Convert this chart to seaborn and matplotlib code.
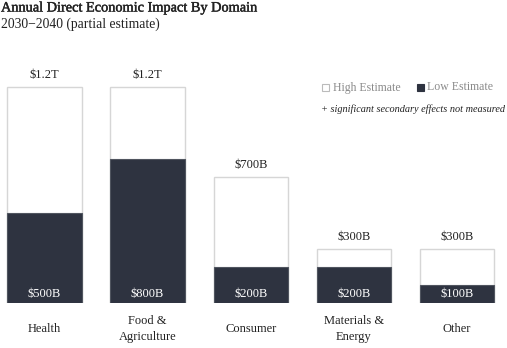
import matplotlib
matplotlib.use("Agg")
import matplotlib.pyplot as plt
import matplotlib.patheffects as pe
from matplotlib.patches import Rectangle
import seaborn as sns
import pandas as pd

domains = ["Health", "Food &\nAgriculture", "Consumer", "Materials &\nEnergy", "Other"]
high_estimate = [1200, 1200, 700, 300, 300]  # $B
low_estimate = [500, 800, 200, 200, 100]     # $B
high_labels = ["$1.2T", "$1.2T", "$700B", "$300B", "$300B"]
low_labels = ["$500B", "$800B", "$200B", "$200B", "$100B"]

DARK = "#2e3340"
EDGE = "#d6d6d6"
SERIF = "Liberation Serif"

sns.set_theme(style="white")
plt.rcParams["font.family"] = [SERIF, "DejaVu Serif"]

df = pd.DataFrame({"domain": domains, "high": high_estimate, "low": low_estimate})

W, H = 507, 348
fig = plt.figure(figsize=(W / 100, H / 100), dpi=100)
ax = fig.add_axes([0, 45 / H, 1, 243 / H])

sns.barplot(data=df, x="domain", y="high", color="white", edgecolor=EDGE,
            linewidth=1.0, width=0.72, saturation=1, ax=ax)
sns.barplot(data=df, x="domain", y="low", color=DARK, edgecolor="#50555f",
            linewidth=0.8, width=0.72, saturation=1, ax=ax)

step = 103.1
x0 = 44.5
ax.set_xlim(-x0 / step, (W - x0) / step)
ax.set_ylim(0, 1350)
for s in ax.spines.values():
    s.set_visible(False)
ax.set_xlabel("")
ax.set_ylabel("")
ax.set_yticks([])
ax.set_xticks([])

px = 1350 / 243.0  # data units per pixel
for i, (h, l, hl, ll) in enumerate(zip(high_estimate, low_estimate, high_labels, low_labels)):
    ax.text(i, h + 6 * px, hl, ha="center", va="bottom", fontsize=9, color="#222222")
    ax.text(i, 3 * px, ll, ha="center", va="bottom", fontsize=9, color="white")
    ax.text(i, -26 * px, domains[i], ha="center", va="center", fontsize=9,
            color="#222222", linespacing=1.35)

fig.text(1 / W, 1 - 8 / H, "Annual Direct Economic Impact By Domain",
         ha="left", va="center", fontsize=10.3, color="#222222",
         path_effects=[pe.withStroke(linewidth=0.3, foreground="#222222")])
fig.text(1 / W, 1 - 24 / H, "2030\u22122040 (partial estimate)",
         ha="left", va="center", fontsize=9.8, color="#222222")

# legend
sq = 7
fig.patches.append(Rectangle((322 / W, 1 - 91 / H), sq / W, sq / H,
                             transform=fig.transFigure, facecolor="white",
                             edgecolor="#bbbbbb", linewidth=0.8))
fig.text(333 / W, 1 - 87.5 / H, "High Estimate", ha="left", va="center",
         fontsize=8.5, color="#8a8a8a")
fig.patches.append(Rectangle((417 / W, 1 - 91 / H), sq / W, sq / H,
                             transform=fig.transFigure, facecolor=DARK,
                             edgecolor=DARK, linewidth=0.8))
fig.text(427 / W, 1 - 87.5 / H, "Low Estimate", ha="left", va="center",
         fontsize=8.5, color="#8a8a8a")
fig.text(505 / W, 1 - 109 / H, "+ significant secondary effects not measured",
         ha="right", va="center", fontsize=7.4, color="#222222", style="italic")

fig.savefig("out.png", dpi=100, facecolor="white")
